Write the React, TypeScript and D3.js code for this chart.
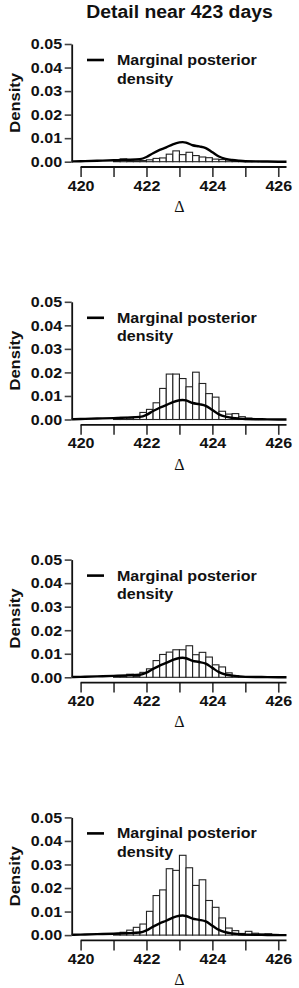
import { useEffect, useRef } from 'react';
import * as d3 from 'd3';

// histogram bin left edges (width 0.2)
const binStarts = [
  421.0, 421.2, 421.4, 421.6, 421.8, 422.0, 422.2, 422.4, 422.6, 422.8,
  423.0, 423.2, 423.4, 423.6, 423.8, 424.0, 424.2, 424.4, 424.6, 424.8,
  425.0, 425.2, 425.4, 425.6, 425.8,
];
const binWidth = 0.2;

const panel1Heights = [
  0.0003, 0.0012, 0.0004, 0.0004, 0.0005, 0.0008, 0.0014, 0.0016, 0.0032, 0.0046,
  0.0030, 0.0040, 0.0026, 0.0020, 0.0017, 0.0011, 0.0009, 0.0007, 0.0003, 0.0002,
  0.0001, 0.0001, 0, 0, 0,
];
const panel2Heights = [
  0.0003, 0.0009, 0.0007, 0.0010, 0.0030, 0.0043, 0.0071, 0.0132, 0.0193, 0.0193,
  0.0174, 0.0139, 0.0201, 0.0153, 0.0110, 0.0095, 0.0035, 0.0023, 0.0025, 0.0012,
  0.0006, 0.0003, 0.0001, 0, 0,
];
const panel3Heights = [
  0.0002, 0.0004, 0.0013, 0.0005, 0.0021, 0.0036, 0.0071, 0.0097, 0.0107, 0.0117,
  0.0117, 0.0134, 0.0096, 0.0106, 0.0086, 0.0053, 0.0044, 0.0019, 0.0007, 0.0003,
  0.0002, 0.0001, 0, 0, 0,
];
const panel4Heights = [
  0.0005, 0.0012, 0.0021, 0.0033, 0.0047, 0.0101, 0.0168, 0.0192, 0.0282, 0.0275,
  0.0339, 0.0286, 0.0211, 0.0235, 0.0147, 0.0118, 0.0073, 0.0030, 0.0019, 0.0007,
  0.0016, 0.0008, 0.0005, 0.0006, 0.0003,
];
const panels = [panel1Heights, panel2Heights, panel3Heights, panel4Heights];

// marginal posterior density (same in every panel)
const densityX = [
  419.73, 420.0, 420.5, 421.0, 421.4, 421.8, 422.0, 422.2, 422.4, 422.6,
  422.8, 423.0, 423.1, 423.2, 423.4, 423.6, 423.8, 424.0, 424.2, 424.4,
  424.6, 424.8, 425.0, 425.5, 426.0, 426.25,
];
const densityY = [
  0.0001, 0.0002, 0.0004, 0.0006, 0.0008, 0.0011, 0.0020, 0.0036, 0.0050, 0.0061,
  0.0074, 0.0082, 0.0083, 0.0081, 0.0070, 0.0065, 0.0058, 0.0040, 0.0022, 0.0012,
  0.0007, 0.0004, 0.0002, 0.0001, 0.0000, 0.0000,
];

const yTicks = [0, 0.01, 0.02, 0.03, 0.04, 0.05];
const xTicks = [420, 421, 422, 423, 424, 425, 426];

const title = 'Detail near 423 days';
const legendLines = ['Marginal posterior', 'density'];
const yLabel = 'Density';
const xLabel = 'Δ';

export default function App() {
  const svgRef = useRef<SVGSVGElement>(null);

  useEffect(() => {
    if (!svgRef.current) return;
    const svg = d3.select(svgRef.current);
    svg.selectAll('*').remove();

    const font = 'Arial, "Liberation Sans", Helvetica, sans-serif';
    const fs = 15;
    const sx = 1.07;
    const ink = '#111';

    const xScale = d3.scaleLinear().domain([419.73, 426.25]).range([71.7, 286.5]);

    svg.append('text')
      .attr('transform', `translate(179.5,18) scale(1.05,1)`)
      .attr('text-anchor', 'middle')
      .attr('font-family', font)
      .attr('font-weight', 'bold')
      .attr('font-size', 18.5)
      .attr('fill', ink)
      .text(title);

    const density = densityX.map((x, i) => ({ x, y: densityY[i] }));

    panels.forEach((heights, p) => {
      const top = 44 + p * 257.8;
      const plotH = 117.7;
      const base = top + plotH;
      const yScale = d3.scaleLinear().domain([0, 0.05]).range([base, top]);
      const g = svg.append('g');

      // bars
      g.selectAll('rect.bar')
        .data(binStarts.map((s, i) => ({ s, h: heights[i] })).filter((d) => d.h > 0))
        .join('rect')
        .attr('class', 'bar')
        .attr('x', (d) => xScale(d.s))
        .attr('width', (d) => xScale(d.s + binWidth) - xScale(d.s))
        .attr('y', (d) => yScale(d.h))
        .attr('height', (d) => base - yScale(d.h))
        .attr('fill', '#fff')
        .attr('stroke', '#222')
        .attr('stroke-width', 1.1);

      // density line
      const line = d3.line<{ x: number; y: number }>()
        .x((d) => xScale(d.x))
        .y((d) => yScale(d.y))
        .curve(d3.curveMonotoneX);
      g.append('path')
        .datum(density)
        .attr('fill', 'none')
        .attr('stroke', '#000')
        .attr('stroke-width', 2.4)
        .attr('d', line);

      // y axis
      const yAxis = g.append('g')
        .attr('transform', `translate(${xScale.range()[0]},0)`)
        .call(d3.axisLeft(yScale).tickValues(yTicks).tickFormat(d3.format('.2f')).tickSize(7).tickSizeOuter(0).tickPadding(2));
      yAxis.select('.domain').attr('stroke', ink).attr('stroke-width', 1.8);
      yAxis.selectAll('.tick line').attr('stroke', '#444').attr('stroke-width', 1.6);
      yAxis.selectAll('.tick text')
        .attr('font-family', font)
        .attr('font-weight', 'bold')
        .attr('font-size', fs)
        .attr('fill', ink)
        .attr('transform', `scale(${sx},1)`);

      // x axis (offset below, starts at 420)
      const xAxis = g.append('g')
        .attr('transform', `translate(0,${base + 5.3})`)
        .call(d3.axisBottom(xScale).tickValues(xTicks)
          .tickFormat((d) => (Number(d) % 2 === 0 ? String(d) : ''))
          .tickSize(10).tickPadding(3));
      xAxis.select('.domain').remove();
      xAxis.append('line')
        .attr('x1', xScale(xTicks[0])).attr('x2', xScale.range()[1])
        .attr('stroke', ink).attr('stroke-width', 1.8);
      xAxis.selectAll('.tick line').attr('stroke', '#333').attr('stroke-width', 1.6);
      xAxis.selectAll('.tick text')
        .attr('font-family', font)
        .attr('font-weight', 'bold')
        .attr('font-size', fs)
        .attr('fill', ink)
        .attr('transform', `scale(${sx},1)`);

      // axis labels
      g.append('text')
        .attr('transform', `translate(20,${top + plotH / 2}) rotate(-90) scale(${sx},1)`)
        .attr('text-anchor', 'middle')
        .attr('font-family', font)
        .attr('font-weight', 'bold')
        .attr('font-size', 15.5)
        .attr('fill', ink)
        .text(yLabel);

      g.append('text')
        .attr('x', xScale(423))
        .attr('y', base + 50)
        .attr('text-anchor', 'middle')
        .attr('font-family', '"Liberation Serif", "Times New Roman", serif')
        .attr('font-size', 16)
        .attr('fill', ink)
        .text(xLabel);

      // legend
      g.append('line')
        .attr('x1', 87).attr('x2', 104)
        .attr('y1', top + 16).attr('y2', top + 16)
        .attr('stroke', '#000').attr('stroke-width', 2.6);
      legendLines.forEach((t, i) => {
        g.append('text')
          .attr('transform', `translate(117,${top + 21 + i * 18.5}) scale(${sx},1)`)
          .attr('font-family', font)
          .attr('font-weight', 'bold')
          .attr('font-size', fs)
          .attr('fill', ink)
          .text(t);
      });
    });
  }, []);

  return (
    <svg
      ref={svgRef}
      width={299}
      height={988}
      style={{ position: 'absolute', left: 0, top: 0, background: '#fff' }}
    />
  );
}
